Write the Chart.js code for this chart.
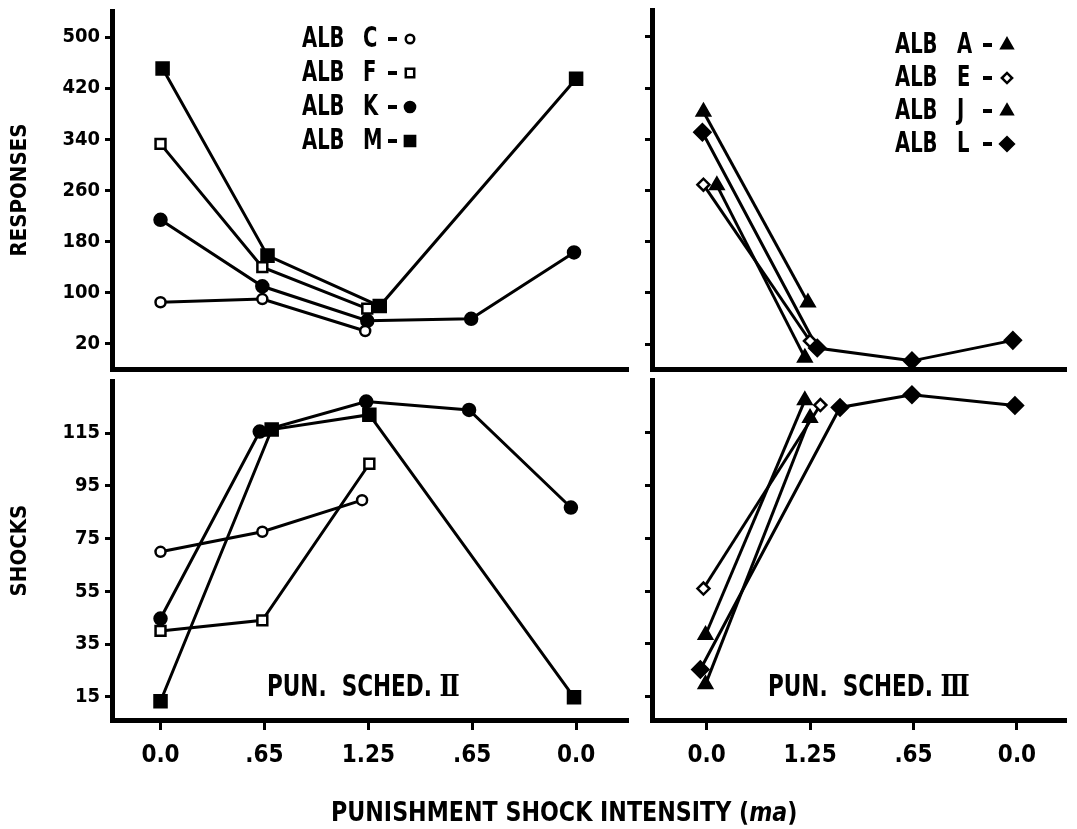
<!DOCTYPE html>
<html><head><meta charset="utf-8">
<script src="https://cdn.jsdelivr.net/npm/chart.js@4.4.0/dist/chart.umd.min.js"></script>
<style>
html,body{margin:0;padding:0;background:#fff;}
body{width:1077px;height:829px;position:relative;overflow:hidden;}
canvas{position:absolute;}
.txt{position:absolute;font-family:'Liberation Sans Narrow','DejaVu Sans Condensed',sans-serif;font-weight:bold;color:#000;white-space:nowrap;transform-origin:0 50%;}
.rn{font-family:'DejaVu Serif','Liberation Serif',serif;font-weight:bold;}
</style></head>
<body>
<canvas id="tl" width="640" height="380" style="left:0;top:0"></canvas>
<canvas id="bl" width="640" height="459" style="left:0;top:370px"></canvas>
<canvas id="tr" width="437" height="380" style="left:640px;top:0"></canvas>
<canvas id="br" width="437" height="459" style="left:640px;top:370px"></canvas>
<div class="txt" style="left:267px;top:671px;font-size:30px;line-height:30px;transform:scaleX(0.8);">PUN.&nbsp; SCHED. <span class="rn">Ⅱ</span></div>
<div class="txt" style="left:768px;top:671px;font-size:30px;line-height:30px;transform:scaleX(0.8);">PUN.&nbsp; SCHED. <span class="rn">Ⅲ</span></div>
<div class="txt" style="left:331px;top:798px;font-size:27px;line-height:27px;transform:scaleX(0.914);">PUNISHMENT SHOCK INTENSITY (<i>ma</i>)</div>
<script>
// ---- tick labels / categories ----
const xTicksLeft  = ['0.0', '.65', '1.25', '.65', '0.0'];
const xTicksRight = ['0.0', '1.25', '.65', '0.0'];
const responseTicks = [20, 100, 180, 260, 340, 420, 500];
const shockTicks = [15, 35, 55, 75, 95, 115];
const labelsII  = ['ALB C', 'ALB F', 'ALB K', 'ALB M'];
const labelsIII = ['ALB A', 'ALB E', 'ALB J', 'ALB L'];

// ---- Schedule II, responses (pos = position along axis categories) ----
const respII_C_pos = [0, 0.98, 1.97];             const respII_C = [85, 90, 40];
const respII_F_pos = [0, 0.98, 1.99];             const respII_F = [333, 140, 75];
const respII_K_pos = [0, 0.98, 1.99, 2.99, 3.98]; const respII_K = [214, 110, 56, 59, 163];
const respII_M_pos = [0.02, 1.03, 2.11, 4.0];     const respII_M = [451, 158, 79, 435];

// ---- Schedule II, shocks ----
const shockII_C_pos = [0, 0.98, 1.94];             const shockII_C = [70, 77.6, 89.6];
const shockII_F_pos = [0, 0.98, 2.01];             const shockII_F = [40, 44, 103.4];
const shockII_K_pos = [0, 0.955, 1.98, 2.97, 3.95]; const shockII_K = [44.7, 115.6, 127, 123.8, 86.8];
const shockII_M_pos = [0, 1.07, 2.01, 3.98];        const shockII_M = [13.3, 116.4, 122, 14.8];

// ---- Schedule III, responses ----
const respIII_A_pos = [-0.03, 0.98];              const respIII_A = [383, 85];
const respIII_E_pos = [-0.03, 1.0];               const respIII_E = [269, 25];
const respIII_J_pos = [0.1, 0.95];                const respIII_J = [268, -1];
const respIII_L_pos = [-0.04, 1.07, 1.985, 2.96]; const respIII_L = [351, 14, -6, 26];

// ---- Schedule III, shocks ----
const shockIII_A_pos = [-0.01, 0.95];              const shockIII_A = [38.4, 127.3];
const shockIII_E_pos = [-0.03, 1.1];               const shockIII_E = [56, 125.5];
const shockIII_J_pos = [-0.01, 1.0];               const shockIII_J = [19.7, 120.6];
const shockIII_L_pos = [-0.06, 1.29, 1.985, 2.98]; const shockIII_L = [25.3, 124.6, 129.4, 125.3];

const FAM = "'Liberation Sans Narrow','DejaVu Sans Condensed',sans-serif";
const MARK = {
  C: {style: 'circle',   r: 5,   filled: false},
  F: {style: 'rect',     r: 7,   filled: false},
  K: {style: 'circle',   r: 6,   filled: true},
  M: {style: 'rect',     r: 8.5, filled: true},
  A: {style: 'triangle', r: 7.5, filled: true},
  E: {style: 'rectRot',  r: 6,   filled: false},
  J: {style: 'triangle', r: 7.5, filled: true},
  L: {style: 'rectRot',  r: 8,   filled: true}
};

function series(label, pos, vals, key) {
  const m = MARK[key];
  return {
    label: label,
    data: pos.map((p, i) => ({x: p, y: vals[i]})),
    borderColor: '#000', borderWidth: 3,
    pointStyle: m.style, pointRadius: m.r, pointHoverRadius: m.r,
    pointBorderWidth: 2.5, pointBorderColor: '#000',
    pointBackgroundColor: m.filled ? '#000' : '#fff',
    fill: false, tension: 0, clip: false
  };
}

const legendPlugin = {
  id: 'panelLegend',
  afterDatasetsDraw(chart, args, opts) {
    if (!opts || !opts.show) return;
    const ctx = chart.ctx;
    chart.data.datasets.forEach((ds, i) => {
      const y = opts.y0 + i * opts.gap;
      const parts = ds.label.split(' ');
      ctx.save();
      ctx.font = 'bold ' + opts.size + 'px ' + FAM;
      ctx.textBaseline = 'middle';
      ctx.fillStyle = '#000';
      ctx.translate(opts.x, y);
      ctx.scale(opts.sx, 1);
      ctx.fillText(parts[0], 0, 0);
      ctx.fillText(parts[1], opts.letterDx / opts.sx, 0);
      ctx.restore();
      ctx.save();
      ctx.fillStyle = '#000';
      ctx.fillRect(opts.dashX, y - 2, opts.dashW, 4);
      ctx.fillStyle = ds.pointBackgroundColor;
      ctx.strokeStyle = '#000';
      ctx.lineWidth = 2.5;
      Chart.helpers.drawPoint(ctx, {pointStyle: ds.pointStyle, radius: ds.pointRadius * 0.85, borderWidth: 2.5, rotation: 0}, opts.markerX, y);
      ctx.restore();
    });
  }
};

function noPad(s) { s.paddingTop = 0; s.paddingBottom = 0; s.paddingLeft = 0; s.paddingRight = 0; }

function yScale(min, max, ticks, showLabels, title, width) {
  return {
    type: 'linear', min: min, max: max,
    afterBuildTicks: s => { s.ticks = ticks.map(v => ({value: v})); },
    afterFit: s => { s.width = width; noPad(s); },
    border: {display: true, color: '#000', width: 5},
    grid: {drawOnChartArea: false, drawTicks: true, tickLength: 7, color: '#000', lineWidth: 3},
    ticks: {display: showLabels, autoSkip: false, color: '#000', padding: 5,
            font: {family: FAM, size: 20, weight: 'bold'}, callback: v => String(v)},
    title: {display: !!title, text: title || '', color: '#000', padding: {top: 7, bottom: 0},
            font: {family: FAM, size: 22, weight: 'bold'}}
  };
}

function xScale(min, max, labels, showTicks, height) {
  return {
    type: 'linear', min: min, max: max,
    afterBuildTicks: s => { s.ticks = labels.map((_, i) => ({value: i})); },
    afterFit: s => { s.height = height; noPad(s); },
    border: {display: true, color: '#000', width: 5},
    grid: {drawOnChartArea: false, drawTicks: showTicks, tickLength: 10, color: '#000', lineWidth: 3},
    ticks: {display: showTicks, autoSkip: false, maxRotation: 0, color: '#000', padding: 11,
            font: {family: FAM, size: 24, weight: 'bold'}, callback: v => labels[v] !== undefined ? labels[v] : ''}
  };
}

function makeChart(id, datasets, xs, ys, padding, legend) {
  return new Chart(document.getElementById(id), {
    type: 'line',
    data: {datasets: datasets},
    options: {
      responsive: false, animation: false, devicePixelRatio: 1,
      layout: {padding: padding},
      plugins: {legend: {display: false}, tooltip: {enabled: false}, panelLegend: legend || {show: false}},
      scales: {x: xs, y: ys}
    },
    plugins: [legendPlugin]
  });
}

const LMIN = -0.467, LMAX = 4.49, RMIN = -0.527, RMAX = 3.464;
const RMINY = -19.5, RMAXY = 541, SMINY = 6.2, SMAXY = 134.8;

makeChart('tl', [
  series(labelsII[0], respII_C_pos, respII_C, 'C'),
  series(labelsII[1], respII_F_pos, respII_F, 'F'),
  series(labelsII[2], respII_K_pos, respII_K, 'K'),
  series(labelsII[3], respII_M_pos, respII_M, 'M')
], xScale(LMIN, LMAX, xTicksLeft, false, 0), yScale(RMINY, RMAXY, responseTicks, true, 'RESPONSES', 112),
  {top: 8, right: 13, bottom: 3, left: 0},
  {show: true, size: 29, sx: 0.75, x: 302, letterDx: 61, dashX: 388, dashW: 9, markerX: 410, y0: 39, gap: 34});

makeChart('bl', [
  series(labelsII[0], shockII_C_pos, shockII_C, 'C'),
  series(labelsII[1], shockII_F_pos, shockII_F, 'F'),
  series(labelsII[2], shockII_K_pos, shockII_K, 'K'),
  series(labelsII[3], shockII_M_pos, shockII_M, 'M')
], xScale(LMIN, LMAX, xTicksLeft, true, 109), yScale(SMINY, SMAXY, shockTicks, true, 'SHOCKS', 112),
  {top: 7, right: 13, bottom: 0, left: 0});

makeChart('tr', [
  series(labelsIII[0], respIII_A_pos, respIII_A, 'A'),
  series(labelsIII[1], respIII_E_pos, respIII_E, 'E'),
  series(labelsIII[2], respIII_J_pos, respIII_J, 'J'),
  series(labelsIII[3], respIII_L_pos, respIII_L, 'L')
], xScale(RMIN, RMAX, xTicksRight, false, 0), yScale(RMINY, RMAXY, responseTicks, false, '', 12),
  {top: 8, right: 12, bottom: 3, left: 0},
  {show: true, size: 29, sx: 0.75, x: 255, letterDx: 62, dashX: 343, dashW: 9, markerX: 367, y0: 45, gap: 33});

makeChart('br', [
  series(labelsIII[0], shockIII_A_pos, shockIII_A, 'A'),
  series(labelsIII[1], shockIII_E_pos, shockIII_E, 'E'),
  series(labelsIII[2], shockIII_J_pos, shockIII_J, 'J'),
  series(labelsIII[3], shockIII_L_pos, shockIII_L, 'L')
], xScale(RMIN, RMAX, xTicksRight, true, 109), yScale(SMINY, SMAXY, shockTicks, false, '', 12),
  {top: 7, right: 12, bottom: 0, left: 0});
</script>
</body></html>
